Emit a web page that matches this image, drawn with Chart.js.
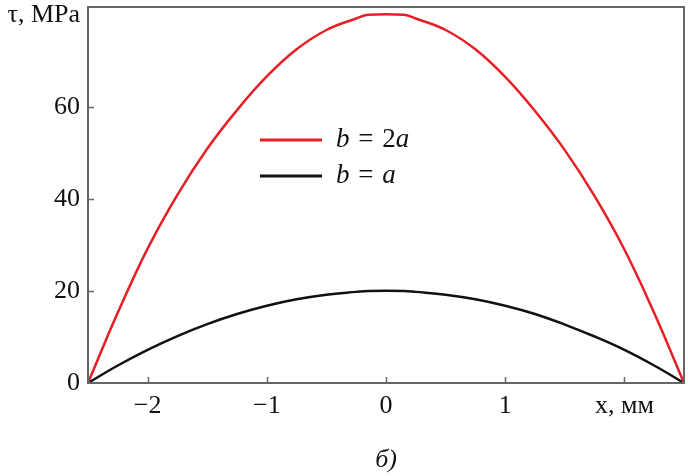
<!DOCTYPE html>
<html>
<head>
<meta charset="utf-8">
<script src="https://cdn.jsdelivr.net/npm/chart.js@4.4.1/dist/chart.umd.min.js"></script>
<style>
  body { margin: 0; background: #fff; }
  #wrap { width: 688px; height: 476px; }
</style>
</head>
<body>
<div id="wrap"><canvas id="mycanvas"></canvas></div>
<script>
// values
var xValues = [-2.5, -2.25, -2, -1.75, -1.5, -1.25, -1, -0.75, -0.5, -0.25, -0.15, 0.15, 0.25, 0.5, 0.75, 1, 1.25, 1.5, 1.75, 2, 2.25, 2.5];
var tauB2a = [0, 15.3, 29.2, 40.9, 50.9, 59.3, 66.6, 72.5, 76.7, 79.2, 80, 80, 79.2, 76.7, 72.5, 66.5, 59.1, 50.6, 40.6, 29.0, 15.2, 0];
var tauBa = [0, 3.8, 7.2, 10.2, 12.8, 15, 16.8, 18.2, 19.2, 19.8, 20, 20, 19.8, 19.2, 18.2, 16.8, 15, 12.7, 10.1, 7.2, 3.8, 0];
var xTicks = [-2, -1, 0, 1, 2];
var yTicks = [0, 20, 40, 60, 80];
var seriesLabels = ["b = 2a", "b = a"];
var seriesColors = ["rgb(232, 30, 38)", "#111"];

var FONT = "'Liberation Serif', 'Times New Roman', serif";

function pts(ys) {
	var out = [];
	for (var i in xValues) {
		out.push({x: xValues[i], y: ys[i]});
	}
	return out;
}

// frame round the plot with inward ticks
var framePlugin = {
	id: "frame",
	afterDraw: function(chart) {
		var c = chart.ctx, a = chart.chartArea;
		var xs = chart.scales.x, ys = chart.scales.y;
		c.save();
		c.strokeStyle = "#666";
		c.lineWidth = 2;
		c.strokeRect(a.left, a.top, a.right - a.left, a.bottom - a.top);
		c.lineWidth = 1.5;
		c.beginPath();
		xTicks.forEach(function(v) {
			var px = Math.round(xs.getPixelForValue(v)) + 0.5;
			c.moveTo(px, a.bottom);
			c.lineTo(px, a.bottom - 6);
		});
		yTicks.slice(1, 4).forEach(function(v) {
			var py = Math.round(ys.getPixelForValue(v)) + 0.5;
			c.moveTo(a.left, py);
			c.lineTo(a.left + 6, py);
		});
		c.stroke();
		c.restore();
	}
};

// legend inside the plot, letters in italic
var legendPlugin = {
	id: "innerLegend",
	afterDraw: function(chart) {
		var c = chart.ctx;
		c.save();
		chart.data.datasets.forEach(function(ds, i) {
			var y = 140 + i * 36;
			c.strokeStyle = ds.borderColor;
			c.lineWidth = 3;
			c.beginPath();
			c.moveTo(260, y);
			c.lineTo(322, y);
			c.stroke();
			var x = 336;
			c.fillStyle = "#111";
			c.textBaseline = "middle";
			ds.label.split("").forEach(function(ch) {
				c.font = (/[a-z]/.test(ch) ? "italic " : "") + "27px " + FONT;
				c.fillText(ch, x, y);
				x += c.measureText(ch).width + (ch === " " ? 2 : 0);
			});
		});
		c.restore();
	}
};

var chartdata = {
	datasets: [
		{
			label: seriesLabels[0],
			data: pts(tauB2a),
			borderColor: seriesColors[0],
			borderWidth: 2.5,
			pointRadius: 0,
			fill: false,
			tension: 0.4
		},
		{
			label: seriesLabels[1],
			data: pts(tauBa),
			borderColor: seriesColors[1],
			borderWidth: 2.5,
			pointRadius: 0,
			fill: false,
			tension: 0.4
		}
	]
};

var ctx = document.getElementById("mycanvas");

var LineGraph = new Chart(ctx, {
	type: "line",
	data: chartdata,
	plugins: [framePlugin, legendPlugin],
	options: {
		responsive: true,
		maintainAspectRatio: false,
		animation: false,
		layout: { padding: { left: 0, right: 4, top: 7, bottom: 0 } },
		plugins: {
			legend: { display: false },
			tooltip: { enabled: false }
		},
		scales: {
			x: {
				type: "linear",
				min: -2.5,
				max: 2.5,
				grid: { display: false },
				border: { display: false },
				afterBuildTicks: function(scale) {
					scale.ticks = xTicks.map(function(v) { return {value: v}; });
				},
				afterFit: function(scale) {
					scale.height = 93;
					scale.paddingLeft = 0;
					scale.paddingRight = 0;
				},
				ticks: {
					color: "#111",
					padding: 0,
					maxRotation: 0,
					font: { family: FONT, size: 26 },
					callback: function(v) {
						if (v === 2) return "x, мм";
						return v < 0 ? "\u2212" + Math.abs(v) : String(v);
					}
				},
				title: {
					display: true,
					text: "б)",
					color: "#111",
					font: { family: FONT, size: 26, style: "italic" },
					padding: { top: 0, bottom: 0 }
				}
			},
			y: {
				min: 0,
				max: 81.7,
				grid: { display: false },
				border: { display: false },
				afterBuildTicks: function(scale) {
					scale.ticks = yTicks.map(function(v) { return {value: v}; });
				},
				afterFit: function(scale) {
					scale.width = 88;
					scale.paddingTop = 0;
					scale.paddingBottom = 0;
				},
				ticks: {
					color: "#111",
					padding: 0,
					font: { family: FONT, size: 26 },
					callback: function(v) {
						return v === 80 ? "τ, MPa" : String(v);
					}
				}
			}
		}
	}
});
</script>
</body>
</html>
